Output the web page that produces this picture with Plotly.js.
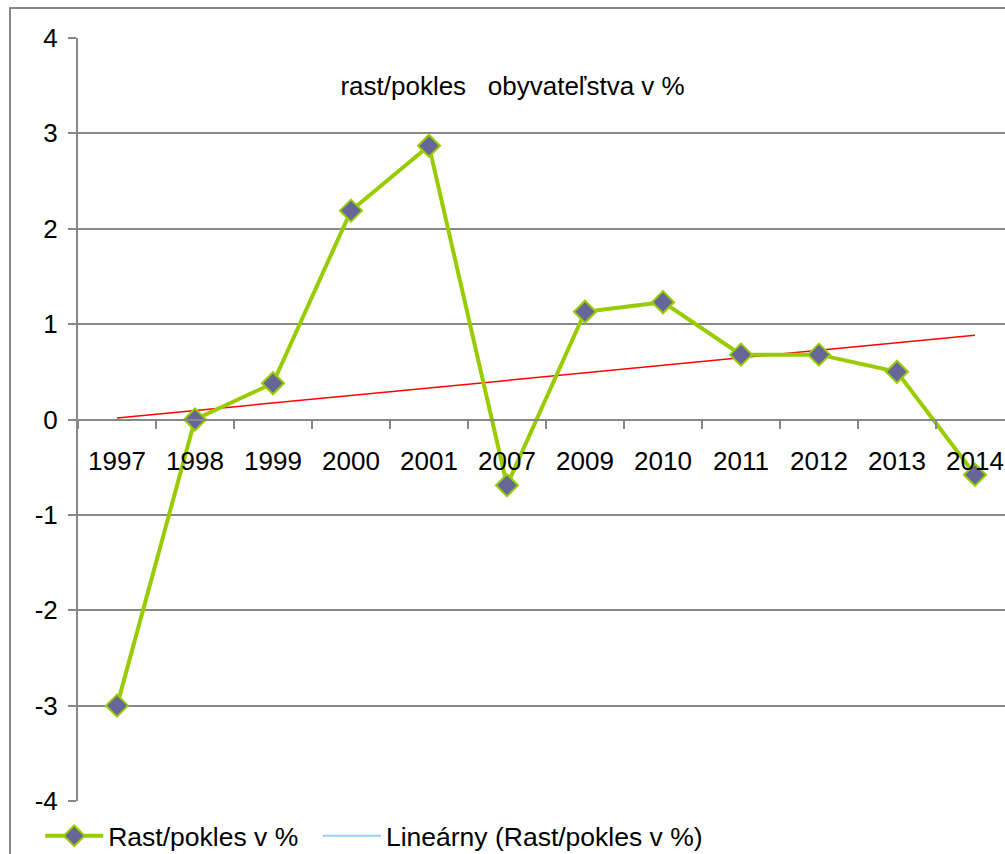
<!DOCTYPE html>
<html><head><meta charset="utf-8">
<script src="https://cdn.plot.ly/plotly-3.0.1.min.js"></script>
<style>html,body{margin:0;padding:0;background:#fff}</style>
</head><body><div id="chart" style="width:1005px;height:854px"></div>
<script>
const years = ['1997','1998','1999','2000','2001','2007','2009','2010','2011','2012','2013','2014'];
const values = [-3.0, 0.0, 0.38, 2.19, 2.87, -0.69, 1.13, 1.23, 0.68, 0.68, 0.50, -0.58];
const yTickVals = [-4, -3, -2, -1, 0, 1, 2, 3, 4];
const yTickText = ['-4', '-3', '-2', '-1', '0', '1', '2', '3', '4'];
const seriesName = 'Rast/pokles v %\u00a0\u00a0';
const trendName = 'Lineárny (Rast/pokles v %)';
const chartTitle = 'rast/pokles&nbsp;&nbsp; obyvateľstva v %';

// linear trendline (least squares, x = 1..n)
const n = values.length;
const xs = values.map((_, i) => i + 1);
const mx = xs.reduce((a, b) => a + b, 0) / n;
const my = values.reduce((a, b) => a + b, 0) / n;
let sxy = 0, sxx = 0;
for (let i = 0; i < n; i++) { sxy += (xs[i] - mx) * (values[i] - my); sxx += (xs[i] - mx) ** 2; }
const slope = sxy / sxx, icpt = my - slope * mx;
const trend = xs.map(x => icpt + slope * x);

const font = 'Liberation Sans, Arial, sans-serif';
const traces = [
  {x: years, y: trend, type: 'scatter', mode: 'lines', line: {color: '#ff0000', width: 1.5}, showlegend: false, hoverinfo: 'skip'},
  {x: years, y: values, type: 'scatter', mode: 'lines+markers', name: seriesName,
   line: {color: '#99cc00', width: 4},
   marker: {symbol: 'diamond', size: 17, color: '#666699', line: {color: '#99cc00', width: 2}}},
  {x: [years[0]], y: [null], type: 'scatter', mode: 'lines', name: trendName, line: {color: '#99ccff', width: 2}, showlegend: true}
];
const layout = {
  width: 1005, height: 854,
  margin: {l: 78, r: 0, t: 38, b: 53, autoexpand: false},
  paper_bgcolor: '#fff', plot_bgcolor: '#fff',
  font: {family: font, color: '#000', size: 26},
  title: {text: chartTitle, font: {size: 26, family: font, color: '#000'}, x: 0.51, xref: 'container', xanchor: 'center', y: 0.899, yref: 'container', yanchor: 'middle'},
  xaxis: {type: 'category', range: [-0.5, 11.385], anchor: 'free', position: 0.5, automargin: false,
          showline: true, linecolor: '#888', linewidth: 2, showgrid: false, zeroline: false,
          ticks: 'outside', tickson: 'boundaries', ticklen: 8, tickcolor: '#888', tickwidth: 2,
          ticklabelstandoff: 18, tickfont: {size: 26, family: font, color: '#000'}},
  yaxis: {range: [-4, 4], tickmode: 'array', tickvals: yTickVals, ticktext: yTickText, automargin: false,
          showline: true, linecolor: '#888', linewidth: 2,
          showgrid: true, gridcolor: '#888', gridwidth: 2, zeroline: false,
          ticks: 'outside', ticklen: 8, tickcolor: '#888', tickwidth: 2,
          ticklabelstandoff: 5, tickfont: {size: 26, family: font, color: '#000'}},
  legend: {orientation: 'h', x: 0.04, xref: 'container', xanchor: 'left', y: 0.021, yref: 'container', yanchor: 'middle',
           font: {size: 26.5, family: font, color: '#000'}, itemwidth: 58, tracegroupgap: 0, bgcolor: 'rgba(0,0,0,0)'},
  shapes: [{type: 'rect', xref: 'paper', yref: 'paper', x0: (10 - 78) / 927, x1: 1.2, y0: -0.3, y1: (801 - 8) / 763,
            line: {color: '#888', width: 2}, fillcolor: 'rgba(0,0,0,0)', layer: 'below'}],
  showlegend: true
};
Plotly.newPlot('chart', traces, layout, {displayModeBar: false, staticPlot: true});
</script></body></html>
